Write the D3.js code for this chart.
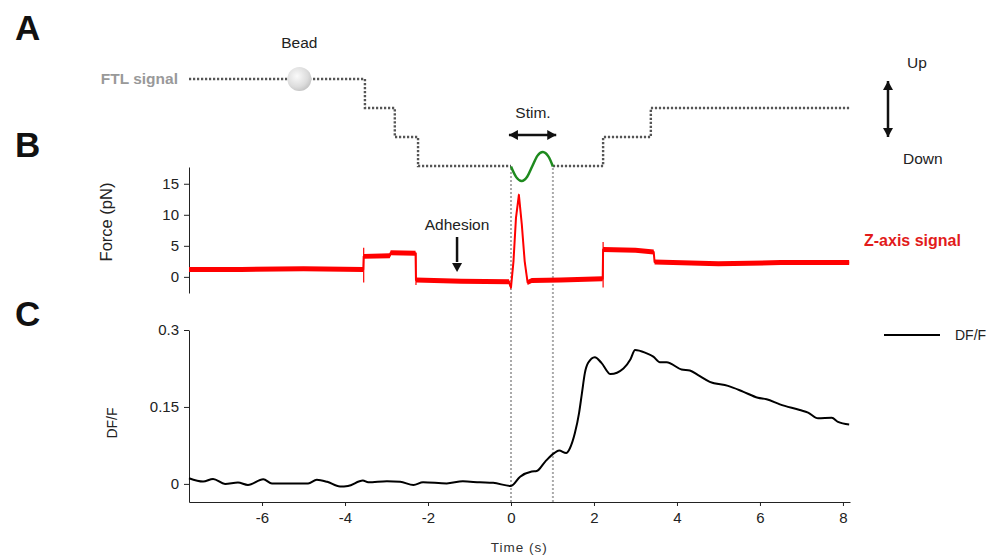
<!DOCTYPE html>
<html><head><meta charset="utf-8">
<script src="https://cdn.jsdelivr.net/npm/d3@7"></script>
<style>body{margin:0;background:#fff}svg{display:block;font-family:"Liberation Sans",Arial,sans-serif}</style>
</head><body><svg id="c" width="1000" height="556"></svg>
<script>
// ---- data ----
const xTicks = [-6, -4, -2, 0, 2, 4, 6, 8];
const xTickLabels = ["-6", "-4", "-2", "0", "2", "4", "6", "8"];
const forceTicks = [0, 5, 10, 15];
const dffTicks = [0, 0.15, 0.3];
const dffTickLabels = ["0", "0.15", "0.3"];

// FTL (position) schematic: levels 3 (top) .. 0 (bottom)
const ftlTimeA = [-7.76, -3.52, -3.52, -2.80, -2.80, -2.24, -2.24, 0];
const ftlLevelA = [3, 3, 2, 2, 1, 1, 0, 0];
const ftlTimeB = [1.01, 2.22, 2.22, 3.37, 3.37, 8.17];
const ftlLevelB = [0, 0, 1, 1, 2, 2];

// stimulation wave (green)
const stimTime = [0, 0.13, 0.26, 0.39, 0.51, 0.64, 0.77, 0.9, 1.01];
const stimWave = [0, -0.75, -1, -0.7, 0, 0.75, 1, 0.7, 0];

// Z-axis force signal (pN)
const forceTime = [-7.76, -6.5, -5.0, -3.56, -3.55, -2.92, -2.9, -2.3, -2.29, -1.2, -0.05, 0.0, 0.06, 0.12, 0.19, 0.26, 0.33, 0.4, 0.5, 1.2, 2.21, 2.22, 3.0, 3.44, 3.46, 5.0, 6.5, 8.15];
const forceValue = [1.2, 1.2, 1.3, 1.2, 3.3, 3.4, 3.9, 3.8, -0.5, -0.7, -0.8, -1.7, 2.5, 9.5, 13.2, 8.5, 2.5, -0.9, -0.6, -0.5, -0.3, 4.4, 4.3, 4.0, 2.4, 2.1, 2.3, 2.3];
// brief transients at the steps (time, min, max)
const transientTime = [-3.55, -2.29, 2.22];
const transientMin = [-0.9, -1.3, -1.7];
const transientMax = [4.7, 3.9, 5.6];

// DF/F trace
const dffTime = [-7.76, -7.42, -7.18, -6.89, -6.58, -6.34, -5.97, -5.76, -4.89, -4.68, -4.43, -4.12, -3.93, -3.57, -3.44, -2.99, -2.67, -2.35, -2.12, -1.55, -1.16, -0.75, -0.43, 0,
  0.22, 0.5, 0.62, 0.82, 1.04, 1.16, 1.33, 1.42, 1.54, 1.64, 1.71, 1.78, 1.86, 2.02, 2.18, 2.4, 2.71, 2.88, 2.99, 3.23, 3.43, 3.59, 3.75, 4.11, 4.31, 4.51, 4.79, 5.23, 5.59, 5.95, 6.16, 6.48, 6.96, 7.16, 7.4, 7.73, 7.88, 8.15];
const dffValue = [0.011, 0.0045, 0.0097, 0, 0.0026, -0.002, 0.009, 0.001, 0.001, 0.008, 0.004, -0.005, -0.004, 0.0065, 0.003, 0.005, 0.004, -0.002, 0.003, 0.001, 0.005, 0.003, 0.002, -0.004,
  0.014, 0.024, 0.025, 0.043, 0.060, 0.065, 0.060, 0.0695, 0.099, 0.138, 0.177, 0.216, 0.236, 0.247, 0.236, 0.214, 0.225, 0.243, 0.261, 0.256, 0.248, 0.237, 0.237, 0.223, 0.221, 0.212, 0.199, 0.191, 0.180, 0.168, 0.165, 0.155, 0.144, 0.139, 0.128, 0.129, 0.121, 0.116];

const stimStart = 0, stimEnd = 1.01;

// ---- drawing ----
const svg = d3.select("#c");
const ink = "#222";
const FONT = "Liberation Sans, Arial, sans-serif";
const x = d3.scaleLinear().domain([-7.76, 8.17]).range([189, 850]);
const yFtl = d3.scaleLinear().domain([0, 3]).range([166, 79]);
const yStim = d3.scaleLinear().domain([-1, 1]).range([181, 152]);
const yF = d3.scaleLinear().domain([-2.6, 17.7]).range([293, 167]);
const yD = d3.scaleLinear().domain([-0.0353, 0.3]).range([502, 330]);

// panel letters
[["A", 40], ["B", 157], ["C", 326]].forEach(([t, y]) => {
  svg.append("text").attr("x", 15).attr("y", y).attr("font-size", 35).attr("font-weight", "bold").attr("fill", "#111").text(t);
});

// vertical stim guides
[stimStart, stimEnd].forEach(t => {
  svg.append("line").attr("x1", x(t)).attr("x2", x(t)).attr("y1", 168).attr("y2", 502)
    .attr("stroke", "#aaa").attr("stroke-width", 2).attr("stroke-dasharray", "2,2");
});

// FTL dotted schematic
const lineFtl = d3.line().x(d => x(d[0])).y(d => yFtl(d[1]));
[[ftlTimeA, ftlLevelA], [ftlTimeB, ftlLevelB]].forEach(([ts, ls]) => {
  svg.append("path").attr("d", lineFtl(ts.map((t, i) => [t, ls[i]])))
    .attr("fill", "none").attr("stroke", "#555").attr("stroke-width", 2.4).attr("stroke-dasharray", "2.2,1.8");
});
svg.append("text").attr("x", 178).attr("y", 84).attr("text-anchor", "end").attr("font-size", 15.5)
  .attr("font-weight", "bold").attr("fill", "#999").text("FTL signal");

// bead
const defs = svg.append("defs");
const g = defs.append("radialGradient").attr("id", "bead").attr("cx", "40%").attr("cy", "38%").attr("r", "65%");
g.append("stop").attr("offset", "0%").attr("stop-color", "#fafafa");
g.append("stop").attr("offset", "70%").attr("stop-color", "#dcdcdc");
g.append("stop").attr("offset", "100%").attr("stop-color", "#c4c4c4");
svg.append("circle").attr("cx", x(-5.1)).attr("cy", yFtl(3)).attr("r", 12).attr("fill", "url(#bead)");
svg.append("text").attr("x", x(-5.1)).attr("y", 48).attr("text-anchor", "middle").attr("font-size", 15.5).attr("fill", ink).text("Bead");

// stim wave
svg.append("path").attr("d", d3.line().curve(d3.curveCardinal).x(d => x(d[0])).y(d => yStim(d[1]))(stimTime.map((t, i) => [t, stimWave[i]])))
  .attr("fill", "none").attr("stroke", "#1e8a1e").attr("stroke-width", 2.5);

// arrow helper
function arrowHead(x0, y0, angle) {
  const L = 9, W = 5;
  const ca = Math.cos(angle), sa = Math.sin(angle);
  const p = [[x0, y0], [x0 - L * ca + W * sa, y0 - L * sa - W * ca], [x0 - L * ca - W * sa, y0 - L * sa + W * ca]];
  svg.append("path").attr("d", "M" + p.map(q => q.join(",")).join("L") + "Z").attr("fill", "#111");
}
function dblArrow(x1, y1, x2, y2) {
  svg.append("line").attr("x1", x1).attr("y1", y1).attr("x2", x2).attr("y2", y2).attr("stroke", "#111").attr("stroke-width", 2.5);
  const a = Math.atan2(y2 - y1, x2 - x1);
  arrowHead(x2, y2, a); arrowHead(x1, y1, a + Math.PI);
}
// Stim.
svg.append("text").attr("x", x(0.53)).attr("y", 118).attr("text-anchor", "middle").attr("font-size", 15.5).attr("fill", ink).text("Stim.");
dblArrow(x(-0.05), 135, x(1.09), 135);
// Up/Down
dblArrow(888, 81, 888, 137);
svg.append("text").attr("x", 907).attr("y", 68).attr("font-size", 15.5).attr("fill", ink).text("Up");
svg.append("text").attr("x", 903).attr("y", 164).attr("font-size", 15.5).attr("fill", ink).text("Down");

// Force axis
const axF = svg.append("g").attr("transform", "translate(189,0)").call(d3.axisLeft(yF).tickValues(forceTicks).tickSize(5).tickSizeOuter(0));
axF.select(".domain").attr("stroke", ink);
axF.selectAll(".tick line").attr("stroke", ink);
axF.selectAll("text").attr("font-size", 15).attr("fill", ink).attr("font-family", FONT).attr("dx", "-2");
svg.append("text").attr("transform", "translate(112,222) rotate(-90)").attr("text-anchor", "middle").attr("font-size", 16.5).attr("fill", ink).text("Force (pN)");

// Force trace: noise band (area) + thin core line + step transients
const bandHalf = 0.4;
const fPts = forceTime.map((t, i) => [t, forceValue[i]]);
svg.append("path").attr("d", d3.area().x(d => x(d[0])).y0(d => yF(d[1] - bandHalf)).y1(d => yF(d[1] + bandHalf))(fPts))
  .attr("fill", "#f00");
svg.append("path").attr("d", d3.line().x(d => x(d[0])).y(d => yF(d[1]))(fPts))
  .attr("fill", "none").attr("stroke", "#f00").attr("stroke-width", 2).attr("stroke-linejoin", "round");
transientTime.forEach((t, i) => {
  svg.append("line").attr("x1", x(t)).attr("x2", x(t)).attr("y1", yF(transientMin[i])).attr("y2", yF(transientMax[i]))
    .attr("stroke", "#f00").attr("stroke-width", 1.2);
});
svg.append("text").attr("x", 864).attr("y", 246).attr("font-size", 16).attr("font-weight", "bold").attr("fill", "#e21b1b").text("Z-axis signal");

// Adhesion
svg.append("text").attr("x", x(-1.3)).attr("y", 230).attr("text-anchor", "middle").attr("font-size", 15.5).attr("fill", ink).text("Adhesion");
svg.append("line").attr("x1", x(-1.3)).attr("x2", x(-1.3)).attr("y1", 237).attr("y2", 262).attr("stroke", "#111").attr("stroke-width", 2.5);
arrowHead(x(-1.3), 272, Math.PI / 2);

// DF/F axis
const axD = svg.append("g").attr("transform", "translate(189,0)").call(d3.axisLeft(yD).tickValues(dffTicks).tickFormat((d, i) => dffTickLabels[i]).tickSize(5).tickSizeOuter(0));
axD.select(".domain").attr("stroke", ink);
axD.selectAll(".tick line").attr("stroke", ink);
axD.selectAll("text").attr("font-size", 15).attr("fill", ink).attr("font-family", FONT).attr("dx", "-2");
svg.append("text").attr("transform", "translate(117,423) rotate(-90)").attr("text-anchor", "middle").attr("font-size", 14).attr("fill", ink).text("DF/F");

// X axis
const axX = svg.append("g").attr("transform", "translate(0,502)").call(d3.axisBottom(x).tickValues(xTicks).tickFormat((d, i) => xTickLabels[i]).tickSize(4).tickSizeOuter(0));
axX.select(".domain").attr("stroke", ink);
axX.selectAll(".tick line").attr("stroke", ink);
axX.selectAll("text").attr("font-size", 15).attr("fill", ink).attr("font-family", FONT).attr("dy", "0.95em");
svg.append("text").attr("x", x(0.2)).attr("y", 552).attr("text-anchor", "middle").attr("font-size", 13.5).attr("letter-spacing", 1).attr("fill", "#333").text("Time (s)");

// DF/F trace
svg.append("path").attr("d", d3.line().curve(d3.curveMonotoneX).x(d => x(d[0])).y(d => yD(d[1]))(dffTime.map((t, i) => [t, dffValue[i]])))
  .attr("fill", "none").attr("stroke", "#000").attr("stroke-width", 2);

// legend
svg.append("line").attr("x1", 884).attr("x2", 940).attr("y1", 335).attr("y2", 335).attr("stroke", "#000").attr("stroke-width", 2);
svg.append("text").attr("x", 955).attr("y", 340).attr("font-size", 14).attr("fill", ink).text("DF/F");
</script></body></html>
